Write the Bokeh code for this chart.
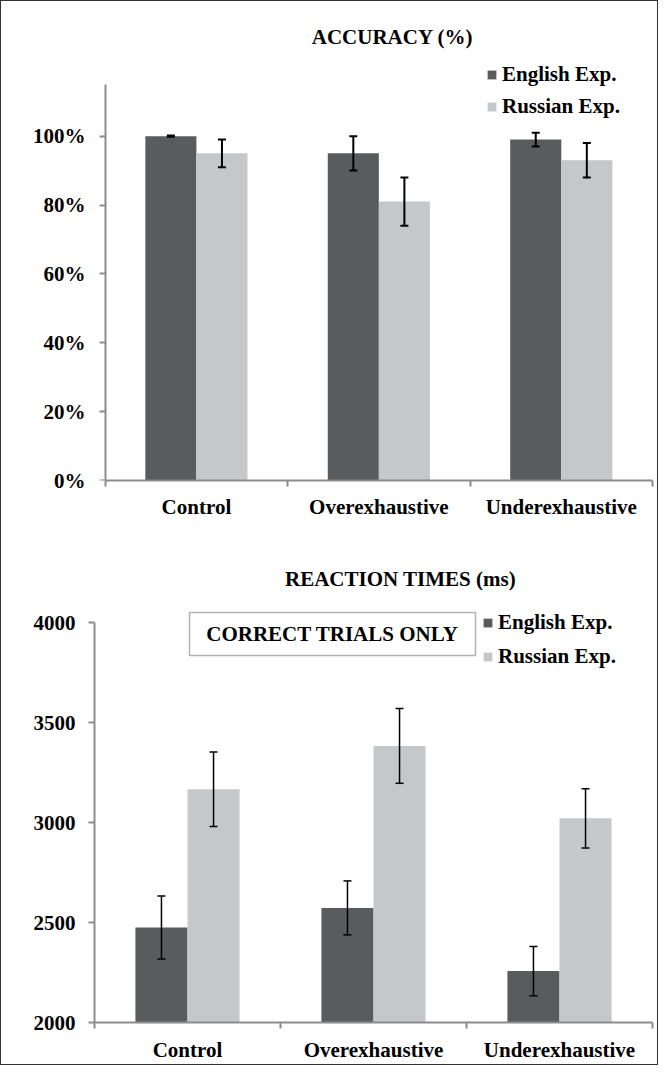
import numpy as np
from bokeh.plotting import figure
from bokeh.models import (ColumnDataSource, Whisker, TeeHead, Legend, LegendItem,
                          FixedTicker, Label, BoxAnnotation, Range1d, LinearAxis)
from bokeh.layouts import column
from bokeh.embed import file_html
from bokeh.resources import INLINE

# ---------------- data ----------------
categories = ["Control", "Overexhaustive", "Underexhaustive"]
series = ["English Exp.", "Russian Exp."]

acc_english = [1.00, 0.95, 0.99]
acc_english_err = [0.002, 0.05, 0.02]
acc_russian = [0.95, 0.81, 0.93]
acc_russian_err = [0.04, 0.07, 0.05]

rt_english = [2475, 2573, 2257]
rt_english_err = [157, 135, 123]
rt_russian = [3166, 3383, 3021]
rt_russian_err = [186, 187, 148]

acc_ticks = [0.0, 0.2, 0.4, 0.6, 0.8, 1.0]
acc_tick_labels = ["0%", "20%", "40%", "60%", "80%", "100%"]
acc_axis_max = 1.15
rt_ticks = [2000, 2500, 3000, 3500, 4000]
rt_tick_labels = ["2000", "2500", "3000", "3500", "4000"]
rt_axis_min, rt_axis_max = 2000, 4000

# ---------------- style ----------------
FONT = "Liberation Serif"
DARK = "#5a5b5d"
LIGHT = "#c6c7c9"
AXIS = "#8c8c8c"
BAR_W = 0.28
W = 656
LEFT, RIGHT = 93, 5
FRAME_W = W - LEFT - RIGHT


def label_style(ax):
    ax.major_label_text_font = FONT
    ax.major_label_text_font_style = "bold"
    ax.major_label_text_font_size = "21px"
    ax.major_label_text_color = "black"


def line_style(ax):
    ax.axis_line_color = AXIS
    ax.axis_line_width = 2
    ax.major_tick_line_color = AXIS
    ax.major_tick_line_width = 2
    ax.minor_tick_line_color = None


def style_axes(p, yticks, ylabels, ybounds, xstandoff, inset):
    n = len(categories)
    centers = [i + 0.5 for i in range(n)]
    # category axis: labels at centres, boundary tick marks as minor ticks
    xa = p.xaxis[0]
    xa.ticker = FixedTicker(ticks=centers, minor_ticks=list(range(n + 1)))
    xa.major_label_overrides = {c: lab for c, lab in zip(centers, categories)}
    line_style(xa)
    label_style(xa)
    xa.major_tick_out = 0
    xa.major_tick_in = 0
    xa.minor_tick_out = 6
    xa.minor_tick_in = 0
    xa.minor_tick_line_color = AXIS
    xa.minor_tick_line_width = 2
    xa.major_label_standoff = xstandoff
    xa.bounds = (0, n)

    ya = p.yaxis[0]
    ya.ticker = FixedTicker(ticks=yticks)
    ya.major_label_overrides = {t: lab for t, lab in zip(yticks, ylabels)}
    label_style(ya)
    line_style(ya)
    ya.major_tick_in = 0
    ya.bounds = ybounds
    if inset:
        # labels only at the frame edge; line + ticks drawn at x = 0
        ya.axis_line_color = None
        ya.major_tick_line_color = None
        ya.major_tick_out = 0
        ya.major_label_standoff = 9
        inner = LinearAxis(fixed_location=0, bounds=ybounds,
                           ticker=FixedTicker(ticks=yticks),
                           major_label_overrides={t: "" for t in yticks},
                           major_label_standoff=0, major_tick_out=6, major_tick_in=0)
        line_style(inner)
        p.add_layout(inner, "left")
    else:
        ya.major_tick_out = 6
        ya.major_label_standoff = 13
    p.xgrid.visible = False
    p.ygrid.visible = False
    p.outline_line_color = None


def add_bars(p, eng, eng_err, rus, rus_err, base, lw):
    n = len(categories)
    xe = [i + 0.5 - BAR_W / 2 for i in range(n)]
    xr = [i + 0.5 + BAR_W / 2 for i in range(n)]
    se = ColumnDataSource(dict(x=xe, top=eng,
                               upper=[v + e for v, e in zip(eng, eng_err)],
                               lower=[v - e for v, e in zip(eng, eng_err)]))
    sr = ColumnDataSource(dict(x=xr, top=rus,
                               upper=[v + e for v, e in zip(rus, rus_err)],
                               lower=[v - e for v, e in zip(rus, rus_err)]))
    r1 = p.vbar(x="x", top="top", bottom=base, width=BAR_W, source=se,
                fill_color=DARK, line_color=None)
    r2 = p.vbar(x="x", top="top", bottom=base, width=BAR_W, source=sr,
                fill_color=LIGHT, line_color=None)
    for s in (se, sr):
        p.add_layout(Whisker(base="x", upper="upper", lower="lower", source=s,
                             line_width=lw, line_color="black", level="overlay",
                             upper_head=TeeHead(size=8, line_width=lw, line_color="black"),
                             lower_head=TeeHead(size=8, line_width=lw, line_color="black")))
    return r1, r2


def add_legend(p, r1, r2, loc, spacing):
    leg = Legend(items=[LegendItem(label=series[0], renderers=[r1]),
                        LegendItem(label=series[1], renderers=[r2])],
                 location=loc, orientation="vertical",
                 glyph_width=11, glyph_height=11, label_height=24,
                 label_standoff=5, spacing=spacing, padding=0, margin=0,
                 border_line_color=None, background_fill_alpha=0,
                 label_text_font=FONT, label_text_font_style="bold",
                 label_text_font_size="21px", label_text_color="black")
    p.add_layout(leg)


def add_title(p, text, x, y):
    p.add_layout(Label(x=x, y=y, x_units="screen", y_units="screen", text=text,
                       text_align="center", text_baseline="middle",
                       text_font=FONT, text_font_style="bold",
                       text_font_size="21px", text_color="black"))


# ---------------- top chart: accuracy ----------------
H1, B1_BOTTOM = 548, 69
frame1_h = H1 - B1_BOTTOM           # frame spans to the top of the figure
data1_h = 396                       # pixels used by 0 .. acc_axis_max
cat1_w = 547.3                      # pixels used by the three categories
p1 = figure(width=W, height=H1,
            x_range=Range1d(-3 * (FRAME_W - cat1_w) / cat1_w, 3),
            y_range=Range1d(0, acc_axis_max * frame1_h / data1_h),
            output_backend="svg", toolbar_location=None,
            min_border_left=LEFT, min_border_right=RIGHT, min_border_top=0,
            min_border_bottom=B1_BOTTOM, background_fill_color="white",
            border_fill_color="white")
style_axes(p1, acc_ticks, acc_tick_labels, (0, acc_axis_max), 8, True)
a1, a2 = add_bars(p1, acc_english, acc_english_err, acc_russian, acc_russian_err, 0, 2)
add_legend(p1, a1, a2, (392, 361), 7)
add_title(p1, "ACCURACY (%)", 298, 444)

# ---------------- bottom chart: reaction times ----------------
H2, B2_BOTTOM = 515, 42
frame2_h = H2 - B2_BOTTOM
data2_h = 400
p2 = figure(width=W, height=H2, x_range=Range1d(0, 3),
            y_range=Range1d(rt_axis_min, rt_axis_min + (rt_axis_max - rt_axis_min) * frame2_h / data2_h),
            output_backend="svg", toolbar_location=None,
            min_border_left=LEFT, min_border_right=RIGHT, min_border_top=0,
            min_border_bottom=B2_BOTTOM, background_fill_color="white",
            border_fill_color="white")
style_axes(p2, rt_ticks, rt_tick_labels, (rt_axis_min, rt_axis_max), 9, False)
b1, b2 = add_bars(p2, rt_english, rt_english_err, rt_russian, rt_russian_err, rt_axis_min, 1.5)
add_legend(p2, b1, b2, (388, 353), 9)
add_title(p2, "REACTION TIMES (ms)", 306, 444)

p2.add_layout(BoxAnnotation(left=95, right=381, bottom=367, top=410,
                            left_units="screen", right_units="screen",
                            bottom_units="screen", top_units="screen",
                            fill_alpha=0, line_color="black", line_width=1.5,
                            level="overlay"))
p2.add_layout(Label(x=238, y=389, x_units="screen", y_units="screen",
                    text="CORRECT TRIALS ONLY", text_align="center",
                    text_baseline="middle", text_font=FONT,
                    text_font_style="bold", text_font_size="21px",
                    text_color="black"))

layout = column(p1, p2, spacing=0,
                styles={"border": "1.5px solid #333333"})

open("out.html", "w").write(file_html(layout, INLINE))
